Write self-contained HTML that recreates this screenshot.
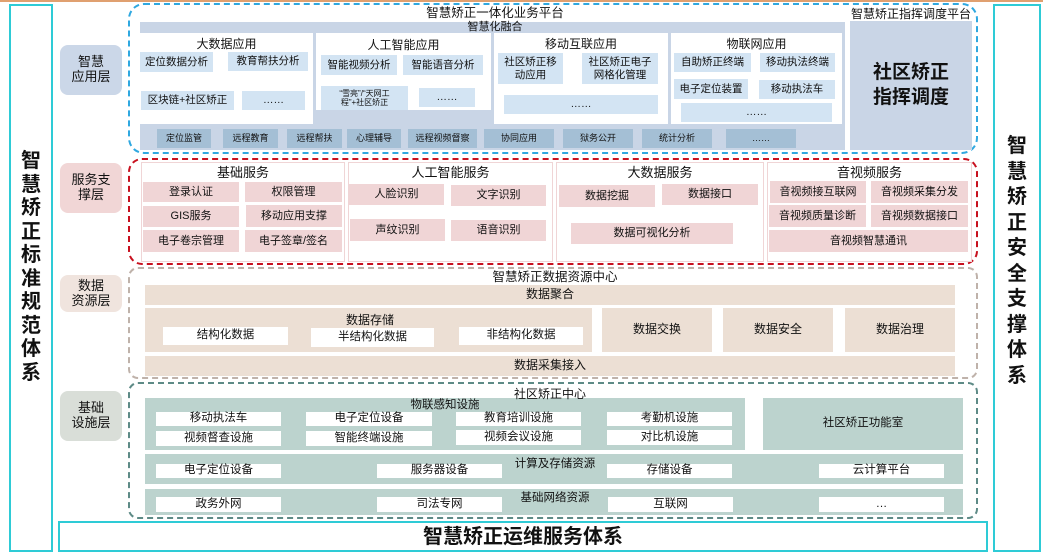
<!DOCTYPE html>
<html><head><meta charset="utf-8"><style>
*{margin:0;padding:0;box-sizing:border-box}
body{width:1043px;height:556px;background:#fff;position:relative;overflow:hidden;font-family:"Liberation Sans","Noto Sans CJK SC",sans-serif;color:#111}
.a{position:absolute;display:flex;align-items:center;justify-content:center;text-align:center;font-size:10.5px;line-height:1.15}
.t{position:absolute;font-size:12px;white-space:nowrap;text-align:center;line-height:1;z-index:2}
.bl{background:#d3e4f3}
.bt{background:#a4bfd5}
.pk{background:#f0d5d6}
.bg{background:#ecdfd4}
.gr{background:#bcd3ce}
.wh{background:#fff}
</style></head><body>
<div style="position:absolute;left:0;top:0;width:1043px;height:2px;background:#e0a070"></div>
<!-- side frames -->
<div style="position:absolute;left:9px;top:4px;width:44px;height:548px;border:2px solid #2ecbd6"></div>
<div class="t" style="left:16px;top:150px;width:30px;font-size:20px;font-weight:bold;line-height:23.5px;white-space:normal">智慧矫正标准规范体系</div>
<div style="position:absolute;left:993px;top:4px;width:48px;height:548px;border:2px solid #2ecbd6"></div>
<div class="t" style="left:1002px;top:134px;width:30px;font-size:20px;font-weight:bold;line-height:25.5px;white-space:normal">智慧矫正安全支撑体系</div>
<div style="position:absolute;left:58px;top:521px;width:930px;height:31px;border:2px solid #2ecbd6"></div>
<div class="t" style="left:58px;top:527px;width:930px;font-size:20px;font-weight:bold">智慧矫正运维服务体系</div>
<!-- layer labels -->
<div class="a" style="left:60px;top:45px;width:62px;height:50px;background:#cbd7e8;border-radius:8px;font-size:13px">智慧<br>应用层</div>
<div class="a" style="left:60px;top:163px;width:62px;height:50px;background:#f1d6d6;border-radius:8px;font-size:13px">服务支<br>撑层</div>
<div class="a" style="left:60px;top:275px;width:62px;height:37px;background:#f0e4de;border-radius:8px;font-size:13px">数据<br>资源层</div>
<div class="a" style="left:60px;top:391px;width:62px;height:50px;background:#d9ded8;border-radius:8px;font-size:13px">基础<br>设施层</div>

<!-- TOP -->
<div style="position:absolute;left:128px;top:3px;width:850px;height:151px;border:2.5px dashed #2fa8e0;border-radius:16px"></div>
<div class="t" style="left:395px;top:7px;width:200px;font-size:12.5px">智慧矫正一体化业务平台</div>
<div style="position:absolute;left:140px;top:22px;width:705px;height:128px;background:#c9d5e6"></div>
<div class="t" style="left:430px;top:22px;width:130px;font-size:11px">智慧化融合</div>
<div class="wh" style="position:absolute;left:140px;top:33px;width:173px;height:91px"></div>
<div class="wh" style="position:absolute;left:316px;top:33px;width:175px;height:77px"></div>
<div class="wh" style="position:absolute;left:494px;top:33px;width:174px;height:91px"></div>
<div class="wh" style="position:absolute;left:671px;top:33px;width:171px;height:91px"></div>
<div class="t" style="left:140px;top:38px;width:173px">大数据应用</div>
<div class="t" style="left:316px;top:39px;width:175px">人工智能应用</div>
<div class="t" style="left:494px;top:38px;width:174px">移动互联应用</div>
<div class="t" style="left:671px;top:38px;width:171px">物联网应用</div>
<div class="a bl" style="left:140px;top:52px;width:73px;height:20px">定位数据分析</div>
<div class="a bl" style="left:228px;top:52px;width:80px;height:19px">教育帮扶分析</div>
<div class="a bl" style="left:141px;top:91px;width:93px;height:19px">区块链+社区矫正</div>
<div class="a bl" style="left:242px;top:91px;width:63px;height:19px">……</div>
<div class="a bl" style="left:321px;top:55px;width:76px;height:20px">智能视频分析</div>
<div class="a bl" style="left:403px;top:55px;width:80px;height:20px">智能语音分析</div>
<div class="a bl" style="left:321px;top:86px;width:87px;height:24px;font-size:8px">“雪亮”/“天网工<br>程”+社区矫正</div>
<div class="a bl" style="left:419px;top:88px;width:56px;height:19px">……</div>
<div class="a bl" style="left:498px;top:53px;width:65px;height:31px">社区矫正移<br>动应用</div>
<div class="a bl" style="left:582px;top:53px;width:76px;height:31px">社区矫正电子<br>网格化管理</div>
<div class="a bl" style="left:504px;top:95px;width:154px;height:19px">……</div>
<div class="a bl" style="left:674px;top:53px;width:77px;height:19px">自助矫正终端</div>
<div class="a bl" style="left:760px;top:53px;width:75px;height:19px">移动执法终端</div>
<div class="a bl" style="left:674px;top:79px;width:74px;height:20px">电子定位装置</div>
<div class="a bl" style="left:759px;top:80px;width:76px;height:19px">移动执法车</div>
<div class="a bl" style="left:681px;top:103px;width:151px;height:19px">……</div>
<div class="a bt" style="left:157px;top:129px;width:54px;height:19px;font-size:9px">定位监管</div>
<div class="a bt" style="left:223px;top:129px;width:55px;height:19px;font-size:9px">远程教育</div>
<div class="a bt" style="left:287px;top:129px;width:55px;height:19px;font-size:9px">远程帮扶</div>
<div class="a bt" style="left:347px;top:129px;width:54px;height:19px;font-size:9px">心理辅导</div>
<div class="a bt" style="left:408px;top:129px;width:69px;height:19px;font-size:9px">远程视频督察</div>
<div class="a bt" style="left:484px;top:129px;width:70px;height:19px;font-size:9px">协同应用</div>
<div class="a bt" style="left:563px;top:129px;width:70px;height:19px;font-size:9px">狱务公开</div>
<div class="a bt" style="left:642px;top:129px;width:70px;height:19px;font-size:9px">统计分析</div>
<div class="a bt" style="left:726px;top:129px;width:70px;height:19px;font-size:9px">……</div>
<div class="t" style="left:848px;top:8px;width:126px;font-size:12px">智慧矫正指挥调度平台</div>
<div class="a" style="left:850px;top:21px;width:122px;height:129px;background:#c9d5e6;font-size:19px;font-weight:bold;line-height:1.3">社区矫正<br>指挥调度</div>

<!-- SERVICE -->
<div style="position:absolute;left:128px;top:158px;width:850px;height:107px;border:2.5px dashed #c8101e;border-radius:14px"></div>
<div style="position:absolute;left:141px;top:162px;width:204px;height:100px;border:1.5px solid #f0d5d6"></div>
<div style="position:absolute;left:348px;top:162px;width:205px;height:100px;border:1.5px solid #f0d5d6"></div>
<div style="position:absolute;left:556px;top:162px;width:208px;height:100px;border:1.5px solid #f0d5d6"></div>
<div style="position:absolute;left:767px;top:162px;width:205px;height:100px;border:1.5px solid #f0d5d6"></div>
<div class="t" style="left:141px;top:166px;width:204px;font-size:13px">基础服务</div>
<div class="t" style="left:348px;top:166px;width:205px;font-size:13px">人工智能服务</div>
<div class="t" style="left:556px;top:166px;width:208px;font-size:13px">大数据服务</div>
<div class="t" style="left:767px;top:166px;width:205px;font-size:13px">音视频服务</div>
<div class="a pk" style="left:143px;top:182px;width:96px;height:20px;font-size:11px">登录认证</div>
<div class="a pk" style="left:245px;top:182px;width:97px;height:20px;font-size:11px">权限管理</div>
<div class="a pk" style="left:143px;top:206px;width:96px;height:21px;font-size:11px">GIS服务</div>
<div class="a pk" style="left:246px;top:205px;width:96px;height:22px;font-size:11px">移动应用支撑</div>
<div class="a pk" style="left:143px;top:230px;width:96px;height:22px;font-size:11px">电子卷宗管理</div>
<div class="a pk" style="left:245px;top:230px;width:97px;height:22px;font-size:11px">电子签章/签名</div>
<div class="a pk" style="left:349px;top:184px;width:95px;height:21px;font-size:11px">人脸识别</div>
<div class="a pk" style="left:451px;top:185px;width:95px;height:21px;font-size:11px">文字识别</div>
<div class="a pk" style="left:350px;top:219px;width:95px;height:22px;font-size:11px">声纹识别</div>
<div class="a pk" style="left:451px;top:220px;width:95px;height:21px;font-size:11px">语音识别</div>
<div class="a pk" style="left:559px;top:185px;width:96px;height:22px;font-size:11px">数据挖掘</div>
<div class="a pk" style="left:662px;top:184px;width:96px;height:21px;font-size:11px">数据接口</div>
<div class="a pk" style="left:571px;top:223px;width:162px;height:21px;font-size:11px">数据可视化分析</div>
<div class="a pk" style="left:770px;top:181px;width:96px;height:22px;font-size:11px">音视频接互联网</div>
<div class="a pk" style="left:871px;top:181px;width:97px;height:22px;font-size:11px">音视频采集分发</div>
<div class="a pk" style="left:769px;top:205px;width:97px;height:22px;font-size:11px">音视频质量诊断</div>
<div class="a pk" style="left:871px;top:205px;width:97px;height:22px;font-size:11px">音视频数据接口</div>
<div class="a pk" style="left:769px;top:230px;width:199px;height:22px;font-size:11px">音视频智慧通讯</div>

<!-- DATA -->
<div style="position:absolute;left:128px;top:267px;width:850px;height:112px;border:2px dashed #bfb2aa;border-radius:10px"></div>
<div class="t" style="left:440px;top:271px;width:230px;font-size:12.5px">智慧矫正数据资源中心</div>
<div class="a bg" style="left:145px;top:285px;width:810px;height:20px;font-size:12px">数据聚合</div>
<div class="bg" style="position:absolute;left:145px;top:308px;width:447px;height:44px"></div>
<div class="t" style="left:320px;top:314px;width:100px;font-size:12px">数据存储</div>
<div class="a wh" style="left:163px;top:327px;width:125px;height:18px;font-size:11.5px">结构化数据</div>
<div class="a wh" style="left:311px;top:328px;width:123px;height:19px;font-size:11.5px">半结构化数据</div>
<div class="a wh" style="left:459px;top:327px;width:124px;height:18px;font-size:11.5px">非结构化数据</div>
<div class="a bg" style="left:602px;top:308px;width:110px;height:44px;font-size:12px">数据交换</div>
<div class="a bg" style="left:723px;top:308px;width:110px;height:44px;font-size:12px">数据安全</div>
<div class="a bg" style="left:845px;top:308px;width:110px;height:44px;font-size:12px">数据治理</div>
<div class="a bg" style="left:145px;top:356px;width:810px;height:20px;font-size:12px">数据采集接入</div>

<!-- INFRA -->
<div style="position:absolute;left:128px;top:382px;width:850px;height:137px;border:2px dashed #5d8a86;border-radius:10px"></div>
<div class="gr" style="position:absolute;left:145px;top:398px;width:600px;height:52px"></div>
<div class="t" style="left:480px;top:388px;width:140px;font-size:12px">社区矫正中心</div>
<div class="t" style="left:380px;top:400px;width:130px;font-size:11.5px">物联感知设施</div>
<div class="a wh" style="left:156px;top:412px;width:125px;height:14px;font-size:11.5px">移动执法车</div>
<div class="a wh" style="left:156px;top:431px;width:125px;height:15px;font-size:11.5px">视频督查设施</div>
<div class="a wh" style="left:306px;top:412px;width:126px;height:14px;font-size:11.5px">电子定位设备</div>
<div class="a wh" style="left:306px;top:431px;width:126px;height:15px;font-size:11.5px">智能终端设施</div>
<div class="a wh" style="left:456px;top:412px;width:125px;height:14px;font-size:11.5px">教育培训设施</div>
<div class="a wh" style="left:456px;top:430px;width:125px;height:15px;font-size:11.5px">视频会议设施</div>
<div class="a wh" style="left:607px;top:412px;width:125px;height:14px;font-size:11.5px">考勤机设施</div>
<div class="a wh" style="left:607px;top:430px;width:125px;height:15px;font-size:11.5px">对比机设施</div>
<div class="a gr" style="left:763px;top:398px;width:200px;height:52px;font-size:11.5px">社区矫正功能室</div>
<div class="gr" style="position:absolute;left:145px;top:454px;width:818px;height:30px"></div>
<div class="t" style="left:500px;top:459px;width:110px;font-size:11.5px">计算及存储资源</div>
<div class="a wh" style="left:156px;top:464px;width:125px;height:14px;font-size:11.5px">电子定位设备</div>
<div class="a wh" style="left:377px;top:464px;width:125px;height:14px;font-size:11.5px">服务器设备</div>
<div class="a wh" style="left:607px;top:464px;width:125px;height:14px;font-size:11.5px">存储设备</div>
<div class="a wh" style="left:819px;top:464px;width:125px;height:14px;font-size:11.5px">云计算平台</div>
<div class="gr" style="position:absolute;left:145px;top:489px;width:818px;height:26px"></div>
<div class="t" style="left:500px;top:493px;width:110px;font-size:11.5px">基础网络资源</div>
<div class="a wh" style="left:156px;top:497px;width:125px;height:15px;font-size:11.5px">政务外网</div>
<div class="a wh" style="left:377px;top:497px;width:125px;height:15px;font-size:11.5px">司法专网</div>
<div class="a wh" style="left:608px;top:497px;width:125px;height:15px;font-size:11.5px">互联网</div>
<div class="a wh" style="left:819px;top:497px;width:125px;height:15px;font-size:11.5px">…</div>
</body></html>
